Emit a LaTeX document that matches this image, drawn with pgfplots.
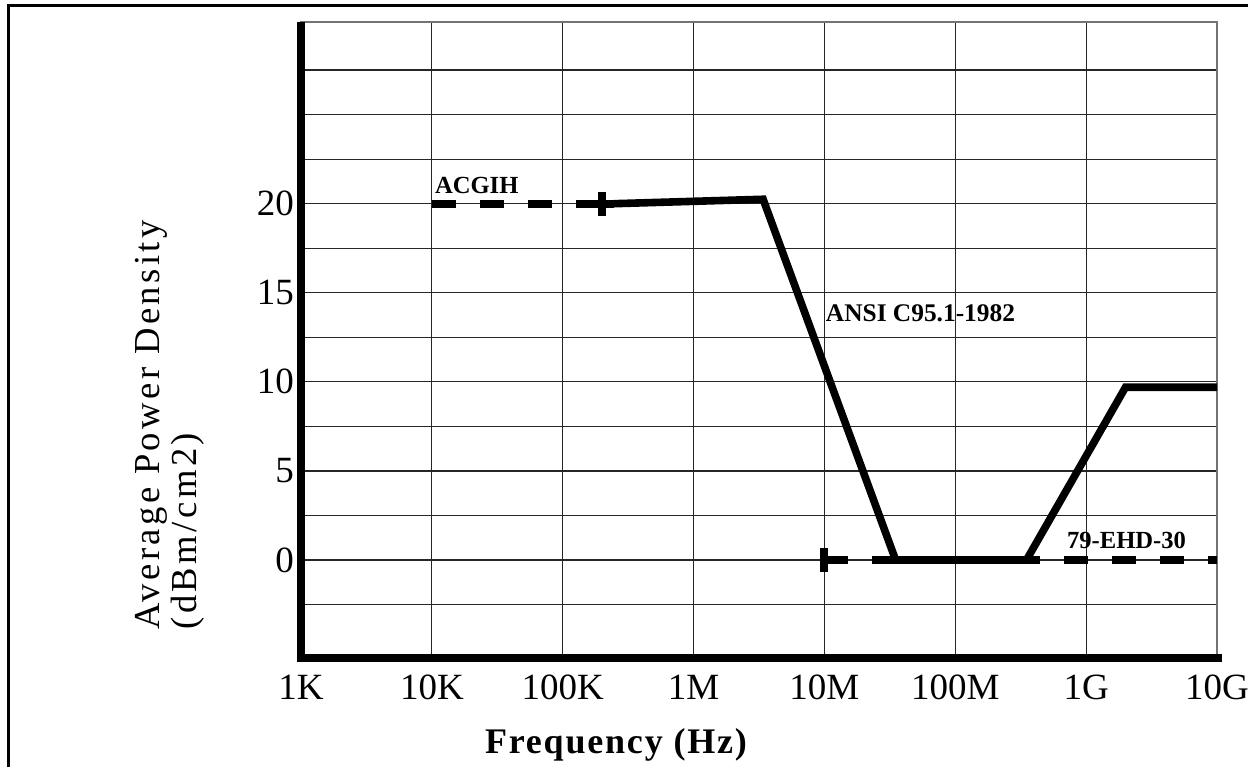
\documentclass[border=0pt]{standalone}
\usepackage{fontspec}
\setmainfont{Liberation Serif}
\newfontfamily\spacedfont[LetterSpace=9.5]{Liberation Serif}
\newfontfamily\spacedbold[LetterSpace=5]{Liberation Serif Bold}
\usepackage{pgfplots}
\pgfplotsset{compat=1.18}
\begin{document}
\begin{tikzpicture}
\useasboundingbox (0,0) rectangle (624pt,383.5pt);
% outer frame (top and left edges visible)
\draw[line width=1.5pt] (4pt,0) -- (4pt,380.5pt) -- (624pt,380.5pt);
\begin{axis}[
  at={(150.5pt,54.5pt)}, anchor=south west,
  scale only axis, width=458pt, height=318pt,
  xmode=log, log basis x=10,
  xmin=1e3, xmax=1e10,
  ymin=-5.5, ymax=30.2,
  xtick={1e3,1e4,1e5,1e6,1e7,1e8,1e9,1e10},
  xticklabels={1K,10K,100K,1M,10M,100M,1G,10G},
  ytick={0,5,10,15,20},
  minor ytick={-2.5,2.5,7.5,12.5,17.5,22.5,25,27.5},
  xmajorgrids, ymajorgrids, yminorgrids,
  major tick length=0pt, minor tick length=0pt,
  major grid style={black!85, line width=0.6pt},
  minor grid style={black!85, line width=0.6pt},
  axis line style={black!55, line width=0.8pt},
  tick label style={font=\fontsize{18.5}{20}\selectfont},
  xticklabel style={yshift=-5pt},
  /pgf/number format/assume math mode=true,
]
% 79-EHD-30 (dashed)
\addplot[black, line width=4pt, dash pattern=on 12pt off 12pt] coordinates {(1e7,0) (1e10,0)};
\addplot[black, only marks, mark=|, mark size=6pt, mark options={line width=4pt, solid}] coordinates {(1e7,0)};
% ACGIH (dashed)
\addplot[black, line width=4pt, dash pattern=on 12pt off 12pt] coordinates {(1e4,20) (1.75e5,20)};
\addplot[black, only marks, mark=+, mark size=6pt, mark options={line width=4pt, solid}] coordinates {(2e5,20)};
% ANSI C95.1-1982 (solid)
\addplot[black, line width=3.8pt, line join=miter] coordinates {(2.45e5,20) (3.4e6,20.25) (3.5e7,0) (3.5e8,0) (2e9,9.7) (1e10,9.7)};
\node[anchor=base west, inner sep=0pt, font=\bfseries\fontsize{12.3}{14}\selectfont] at (axis cs:1.05e4,20.6) {ACGIH};
\node[anchor=base west, inner sep=0pt, font=\bfseries\fontsize{12.7}{14}\selectfont] at (axis cs:1.02e7,13.4) {ANSI C95.1-1982};
\node[anchor=base west, inner sep=0pt, font=\bfseries\fontsize{12.3}{14}\selectfont] at (axis cs:7.1e8,0.67) {79-EHD-30};
\end{axis}
% thick left and bottom axis lines
\draw[line width=3.6pt] (150.5pt,372.5pt) -- (150.5pt,54.5pt) -- (611pt,54.5pt);
% axis labels
\node[rotate=90, align=left, anchor=north west, inner sep=0pt, font=\spacedfont\fontsize{18.3}{18.5}\selectfont] at (67.5pt,68.5pt) {Average Power Density\\(dBm/cm2)};
\node[anchor=base, inner sep=0pt, font=\spacedbold\fontsize{18}{20}\selectfont] at (308pt,7pt) {Frequency (Hz)};
\end{tikzpicture}
\end{document}
